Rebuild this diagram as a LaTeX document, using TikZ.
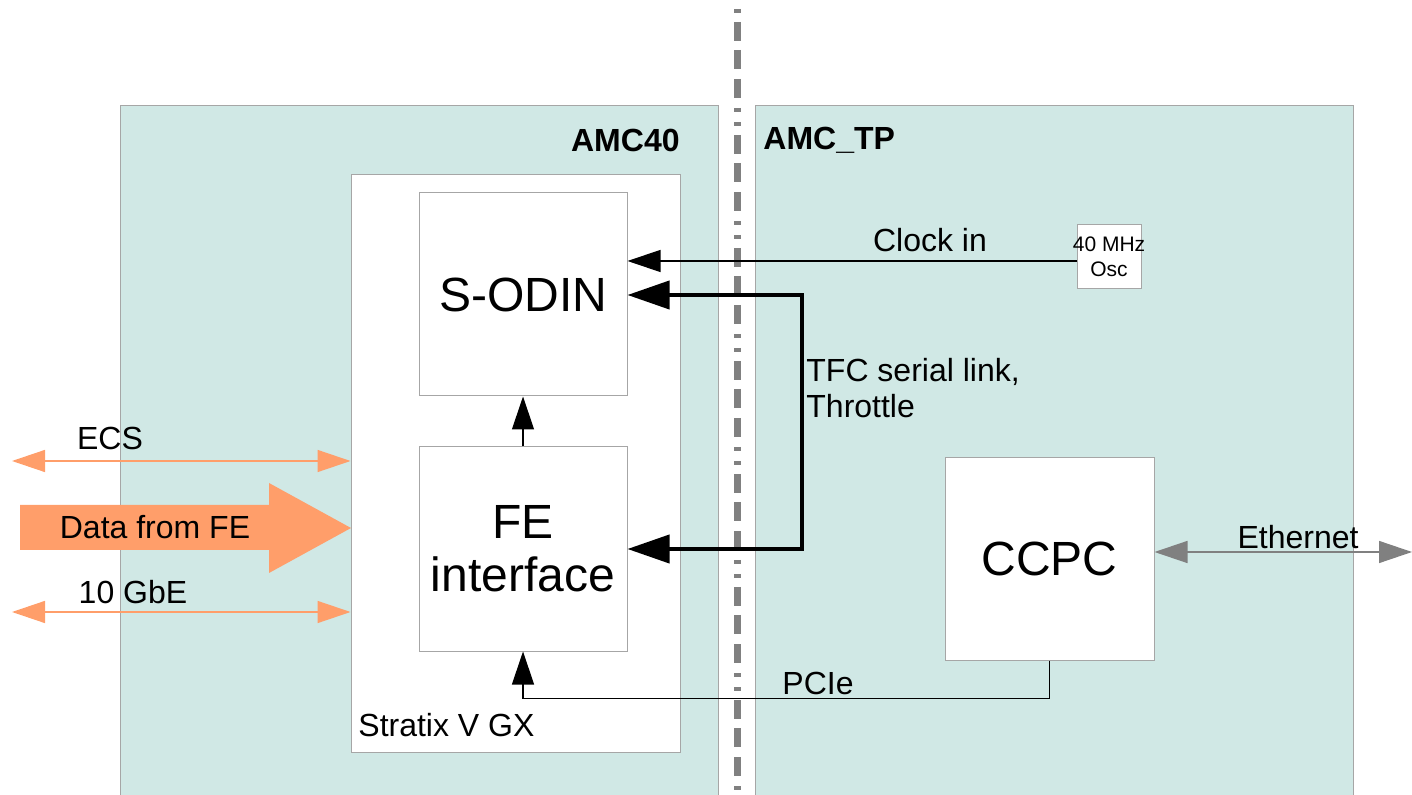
\documentclass[tikz,border=0pt]{standalone}
\usepackage{fontspec}
\setmainfont{Liberation Sans}
\usetikzlibrary{arrows.meta,positioning}
\definecolor{panelteal}{HTML}{D0E8E5}
\definecolor{edgegray}{HTML}{A6A6A6}
\definecolor{salmon}{HTML}{FF9E6A}
\definecolor{midgray}{HTML}{808080}

\begin{document}
\begin{tikzpicture}[x=0.5pt,y=-0.5pt,font=\fontsize{16}{17.6}\selectfont,
  panel/.style={draw=edgegray,fill=panelteal,line width=0.6pt,minimum width=299pt,minimum height=347.5pt,inner sep=0pt},
  blk/.style={draw=edgegray,fill=white,line width=0.5pt,inner sep=0pt,align=center},
  big/.style={font=\fontsize{24}{26.5}\selectfont},
  tag/.style={inner sep=0pt,align=left},
  arr/.style={-{Triangle[length=16.5pt,width=11pt]},line width=0.6pt},
  tfc/.style={{Triangle[length=21pt,width=14pt]}-{Triangle[length=21pt,width=14pt]},line width=2pt},
  ornge/.style={{Triangle[length=16.5pt,width=11pt]}-{Triangle[length=16.5pt,width=11pt]},salmon,line width=0.7pt},
  gry/.style={{Triangle[length=16.5pt,width=11pt]}-{Triangle[length=16.5pt,width=11pt]},midgray,line width=0.7pt}]
\useasboundingbox (0,0) rectangle (1412,795);
% boards
\node[panel,anchor=north west] (amc40) at (120,105) {};
\node[panel,anchor=north west] (amctp) at (755,105) {};
\node[tag,font=\fontsize{16}{17.6}\selectfont\bfseries,anchor=east] (amc40lbl) at (680,140) {AMC40};
\node[tag,font=\fontsize{16}{17.6}\selectfont\bfseries,anchor=west] (amctplbl) at (763,140) {AMC\_TP};
\draw[midgray,line width=3.5pt,dash pattern=on 9.5pt off 4.5pt on 9.5pt off 5pt on 9.5pt off 5pt on 2pt off 5pt on 2pt off 4.5pt,dash phase=45.5pt]
  (737,0) -- (737,795);
% FPGA and blocks
\node[blk,minimum width=164.5pt,minimum height=288.5pt] (stratix) at (515.5,463.5) {};
\node[tag,anchor=west] (stratixlbl) at (358,725) {Stratix V GX};
\node[blk,big,minimum width=104pt,minimum height=101.5pt] (sodin) at (523,294.5) {S-ODIN};
\node[blk,big,minimum width=104pt,minimum height=102pt,below=25pt of sodin] (fe) {FE\\interface};
\node[blk,big,minimum width=104.5pt,minimum height=101pt] (ccpc) at (1049.5,559) {CCPC};
\node[blk,minimum width=32pt,minimum height=32pt] (osc) at (1109,257) {};
\node[align=center,inner sep=0pt,font=\fontsize{10.5}{12.5}\selectfont] (osclbl) at (osc.center) {40 MHz\\Osc};
% links
\draw[arr] (fe.north) -- (sodin.south);
\coordinate (clkR) at (1077,261);
\draw[arr] (clkR) -- (clkR -| sodin.east);
\node (clk) at (930,240) {Clock in};
\coordinate (tfcR) at (802,295);
\draw[tfc] (sodin.east |- tfcR) -- (tfcR) |- (fe.east);
\node[tag,anchor=west] (tfclbl) at (806,388) {TFC serial link,\\Throttle};
\draw[arr] (ccpc.south) -- ++(0,38) -| (fe.south);
\node (pcie) at (818,683) {PCIe};
\coordinate (ethR) at (1412,552);
\draw[gry] (ethR -| ccpc.east) -- (ethR);
\node (eth) at (1298,537) {Ethernet};
% front-end side
\coordinate (ecsL) at (12,461);
\coordinate (gbeL) at (12,612);
\draw[ornge] (ecsL) -- (ecsL -| stratix.west);
\node (ecs) at (110,438) {ECS};
\draw[ornge] (gbeL) -- (gbeL -| stratix.west);
\node (gbe) at (133,592) {10 GbE};
\fill[salmon] (20,505) -- (269,505) -- (269,483) -- (351,528) -- (269,573) -- (269,550) -- (20,550) -- cycle;
\node (data) at (155,527) {Data from FE};
\end{tikzpicture}
\end{document}
